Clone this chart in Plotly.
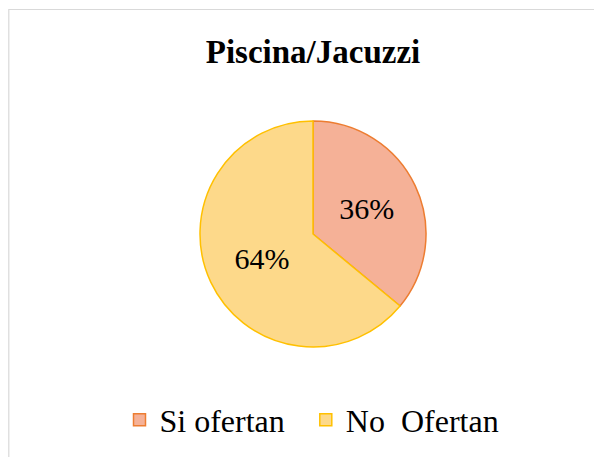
import plotly.graph_objects as go

# datos del gráfico
labels = ["Si ofertan\u00a0\u00a0", "No\u00a0 Ofertan"]
values = [36, 64]
fill_colors = ["#F5B197", "#FDD98A"]
line_colors = ["#ED7D31", "#FFC000"]

W, H = 602, 457
# la página tiene 8px de margen en el body: posiciones ya corregidas
cx, cy, r = 305, 226, 113

fig = go.Figure(go.Pie(
    labels=labels,
    values=values,
    sort=False,
    direction="clockwise",
    rotation=0,
    marker=dict(colors=fill_colors, line=dict(color=line_colors, width=1.5)),
    textinfo="percent",
    texttemplate="%{percent:.0%}",
    textposition="inside",
    insidetextorientation="horizontal",
    textfont=dict(family="Liberation Serif", size=30, color="#000000"),
    domain=dict(x=[(cx - r) / W, (cx + r) / W], y=[1 - (cy + r) / H, 1 - (cy - r) / H]),
    hoverinfo="label+percent",
))

# borde del área del gráfico
fig.add_shape(type="rect", xref="paper", yref="paper",
              x0=0.8 / W, y0=-0.05, x1=1.05, y1=1 - 1.5 / H,
              line=dict(color="#D9D9D9", width=1.2))

fig.update_layout(
    width=W, height=H,
    margin=dict(l=0, r=0, t=0, b=0),
    paper_bgcolor="white",
    title=dict(text="<b>Piscina/Jacuzzi</b>", x=cx / W, xanchor="center",
               y=1 - 43 / H, yanchor="middle",
               font=dict(family="Liberation Serif", size=33, color="#000000")),
    legend=dict(orientation="h", x=304 / W, xanchor="center", y=1 - 412 / H, yanchor="middle",
                font=dict(family="Liberation Serif", size=32, color="#000000"),
                itemwidth=30, tracegroupgap=0),
    showlegend=True,
)

fig.write_html("out.html")
